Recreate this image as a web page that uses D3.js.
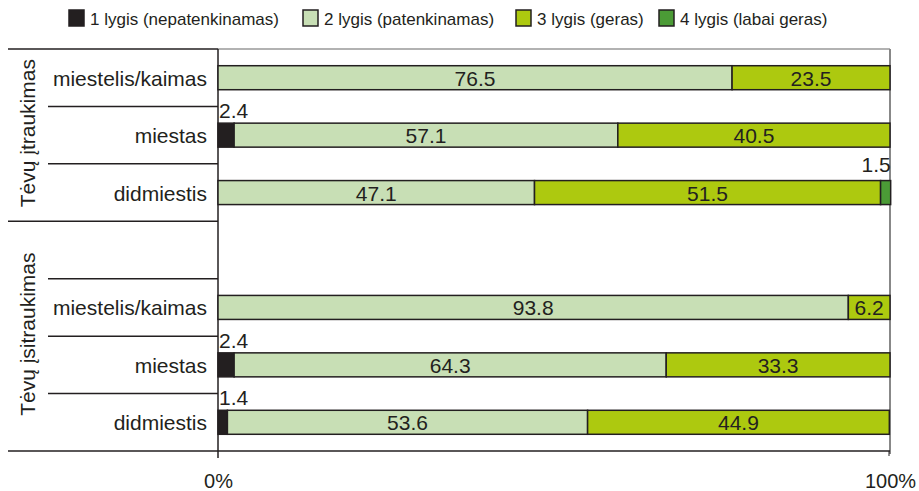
<!DOCTYPE html>
<meta charset="utf-8">
<style>
body { margin: 0; background: #fff; }
text { font-family: 'Liberation Sans', Arial, sans-serif; fill: #231f20; }
</style>
<body>
<div id="chart"></div>
<script src="https://cdn.jsdelivr.net/npm/d3@7"></script>
<script>

// levels (legend)
var levels = ["1 lygis (nepatenkinamas)", "2 lygis (patenkinamas)", "3 lygis (geras)", "4 lygis (labai geras)"];
var colors = ["#231f20", "#c8dfb5", "#adc90f", "#4b9b36"];

// groups and rows
var groups = ["Tėvų įtraukimas", "Tėvų įsitraukimas"];
var rowGroup = [0, 0, 0, 1, 1, 1, 1];
var rowLabels = ["miestelis/kaimas", "miestas", "didmiestis", "", "miestelis/kaimas", "miestas", "didmiestis"];

// values per level, one entry per row ("" row is the spacer)
var lvl1 = [0, 2.4, 0, null, 0, 2.4, 1.4];
var lvl2 = [76.5, 57.1, 47.1, null, 93.8, 64.3, 53.6];
var lvl3 = [23.5, 40.5, 51.5, null, 6.2, 33.3, 44.9];
var lvl4 = [0, 0, 1.5, null, 0, 0, 0];

var xTicks = [0, 100];

var width = 919, height = 491;
var x0 = 218, x1 = 890, yTop = 49, yBot = 451;

var svg = d3.select("#chart").append("svg")
    .attr("width", width)
    .attr("height", height);

var x = d3.scaleLinear().domain([0, 100]).range([x0, x1]);
var yRow = d3.scaleBand().domain(d3.range(rowLabels.length)).range([yTop, yBot]);

var rows = rowLabels.map(function(l, i) {
    return { i: i, label: l, v: [lvl1[i], lvl2[i], lvl3[i], lvl4[i]] };
});

// legend
var legX = [69, 303, 516, 659];
var leg = svg.selectAll("g.leg").data(levels).enter().append("g")
    .attr("class", "leg")
    .attr("transform", function(d, i) { return "translate(" + legX[i] + ",10)"; });
leg.append("rect").attr("width", 15).attr("height", 16)
    .attr("fill", function(d, i) { return colors[i]; })
    .attr("stroke", "#231f20").attr("stroke-width", 1.5);
leg.append("text").attr("x", 21).attr("y", 15).style("font-size", "17px").text(function(d) { return d; });

// frame
svg.append("line").attr("x1", x0).attr("x2", x1).attr("y1", yTop).attr("y2", yTop).attr("stroke", "#999").attr("stroke-width", 1.5);
svg.append("line").attr("x1", x1).attr("x2", x1).attr("y1", yTop).attr("y2", yBot + 3).attr("stroke", "#888").attr("stroke-width", 2);
svg.append("line").attr("x1", 8).attr("x2", x0).attr("y1", yTop).attr("y2", yTop).attr("stroke", "#231f20").attr("stroke-width", 1.5);
svg.append("line").attr("x1", 8).attr("x2", x1).attr("y1", yBot).attr("y2", yBot).attr("stroke", "#231f20").attr("stroke-width", 1.5);
svg.append("line").attr("x1", x0).attr("x2", x0).attr("y1", yTop).attr("y2", yBot + 7).attr("stroke", "#231f20").attr("stroke-width", 1.5);
svg.append("line").attr("x1", x1 - 1).attr("x2", x1 - 1).attr("y1", yBot).attr("y2", yBot + 5).attr("stroke", "#231f20").attr("stroke-width", 1);

// row separators
var seps = d3.range(1, rowLabels.length);
svg.selectAll("line.sep").data(seps).enter().append("line")
    .attr("class", "sep")
    .attr("x1", function(i) { return rowGroup[i] !== rowGroup[i - 1] ? 8 : 48; })
    .attr("x2", x0)
    .attr("y1", function(i) { return yRow(i); })
    .attr("y2", function(i) { return yRow(i); })
    .attr("stroke", "#231f20").attr("stroke-width", 1.5);

// row labels
svg.selectAll("text.row").data(rows).enter().append("text")
    .attr("class", "row")
    .attr("x", 207)
    .attr("y", function(d) { return yRow(d.i) + yRow.bandwidth() / 2 + 8; })
    .attr("text-anchor", "end")
    .style("font-size", "21px")
    .text(function(d) { return d.label; });

// group labels
groups.forEach(function(g, gi) {
    var idx = rowGroup.map(function(v, i) { return v === gi ? i : -1; }).filter(function(i) { return i >= 0; });
    var yc = (yRow(idx[0]) + yRow(idx[idx.length - 1]) + yRow.bandwidth()) / 2;
    svg.append("text")
        .attr("transform", "translate(35," + (yc - 2) + ") rotate(-90)")
        .attr("text-anchor", "middle")
        .style("font-size", "21px")
        .text(g);
});

// bars
var bh = 24;
rows.filter(function(d) { return d.label !== ""; }).forEach(function(d) {
    var yc = yRow(d.i) + yRow.bandwidth() / 2;
    var acc = 0;
    d.v.forEach(function(v, k) {
        var s = acc; acc += v;
        if (!v) return;
        svg.append("rect")
            .attr("x", x(s)).attr("width", x(acc) - x(s))
            .attr("y", yc - bh / 2).attr("height", bh)
            .attr("fill", colors[k])
            .attr("stroke", "#231f20").attr("stroke-width", 1.5);
        var t = svg.append("text").style("font-size", "21px").text(v.toFixed(1));
        if (v < 3) {
            var right = acc > 90;
            t.attr("x", right ? x(acc) : x(s) + 1)
                .attr("y", yc - bh / 2 - (right ? 9 : 5))
                .attr("text-anchor", right ? "end" : "start");
        } else {
            t.attr("x", (x(s) + x(acc)) / 2)
                .attr("y", yc + 8)
                .attr("text-anchor", "middle");
        }
    });
});

// x axis labels
var xAxis = d3.axisBottom(x).tickValues(xTicks).tickSize(0).tickFormat(function(d) { return d + "%"; });
var ax = svg.append("g").attr("transform", "translate(0," + (yBot + 37) + ")").call(xAxis);
ax.select(".domain").remove();
ax.selectAll("text").style("font-size", "20px").attr("fill", "#231f20")
    .attr("font-family", "'Liberation Sans', Arial, sans-serif")
    .attr("y", 0).attr("dy", 0);

</script>
</body>
